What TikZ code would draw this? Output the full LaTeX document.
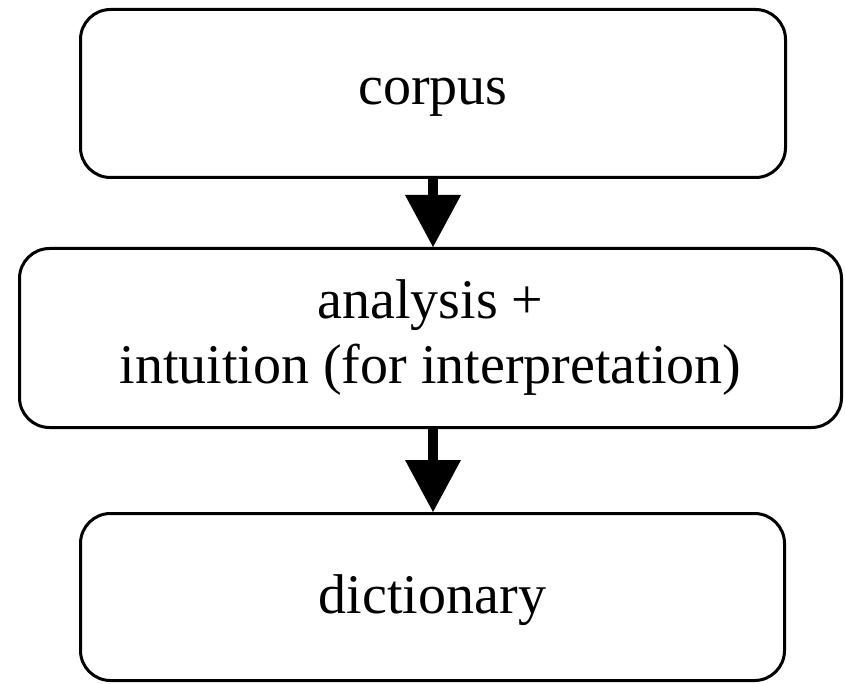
\documentclass[tikz,border=0pt]{standalone}
\usepackage{fontspec}
\setmainfont{Liberation Serif}
\usetikzlibrary{arrows.meta}
\begin{document}
\begin{tikzpicture}[x=1pt,y=1pt,
  flowbox/.style={draw=black, line width=3pt, rounded corners=30pt, align=center,
    font=\fontsize{56}{65}\selectfont, inner sep=0pt},
  flowarrow/.style={line width=10pt, -{Triangle[width=56pt,length=52pt,line width=0pt]}}]
\useasboundingbox (0,0) rectangle (845,-684);
\node[flowbox, minimum width=705pt, minimum height=168pt, text height=23pt, text depth=0pt] (corpus) at (433,-93.5) {corpus};
\node[flowbox, minimum width=822pt, minimum height=179pt] (analysis) at (430.5,-338) {analysis +\\intuition (for interpretation)};
\node[flowbox, minimum width=704pt, minimum height=167pt, text height=32pt, text depth=0pt] (dict) at (432.5,-597) {dictionary};
\draw[flowarrow] (corpus.south -| 433,0) -- (analysis.north -| 433,0);
\draw[flowarrow] (analysis.south -| 433,0) -- (dict.north -| 433,0);
\end{tikzpicture}
\end{document}
